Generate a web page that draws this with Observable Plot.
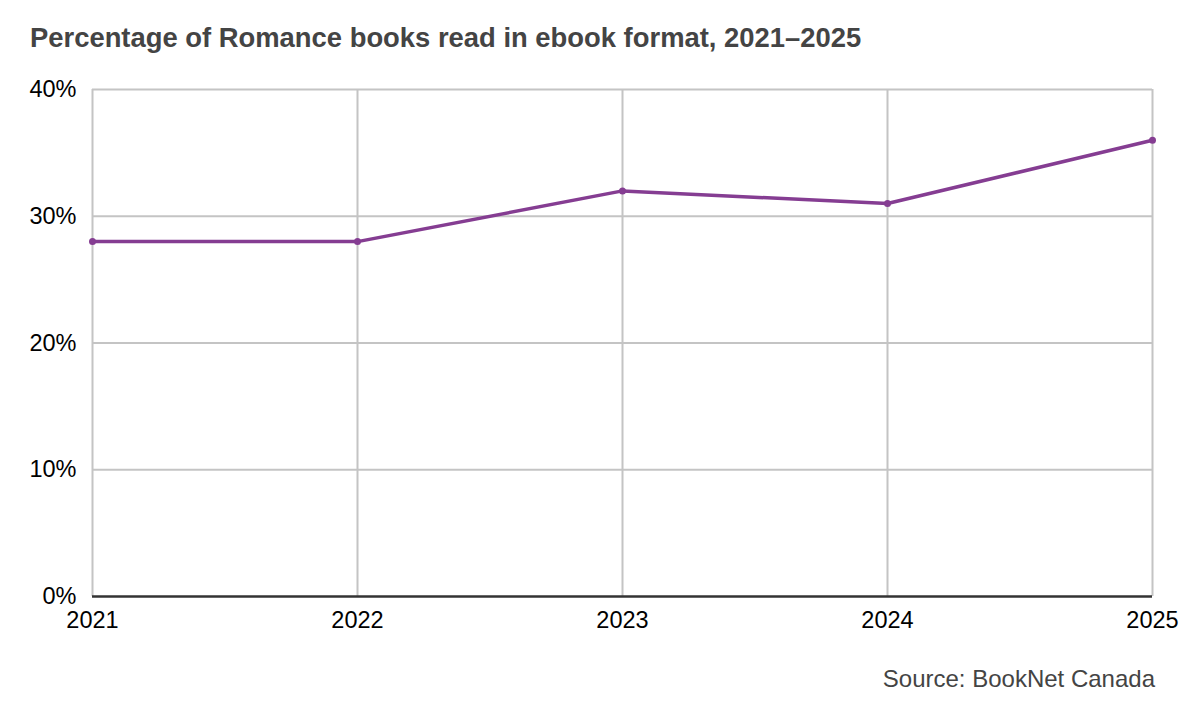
<!DOCTYPE html>
<html>
<head>
<meta charset="utf-8">
<script src="https://cdn.jsdelivr.net/npm/d3@7"></script>
<script src="https://cdn.jsdelivr.net/npm/@observablehq/plot@0.6"></script>
<style>
  html, body { margin: 0; padding: 0; background: #fff; }
  body { width: 1182px; height: 702px; overflow: hidden; font-family: "Liberation Sans", Arial, sans-serif; }
  #title { padding: 23px 0 0 30px; height: 37px; font-size: 27.4px; font-weight: bold; color: #444; line-height: 30px; white-space: nowrap; }
  #source { text-align: right; padding-right: 27px; font-size: 24px; color: #444; line-height: 26px; margin-top: 30px; }
  svg { display: block; }
</style>
</head>
<body>
<div id="title">Percentage of Romance books read in ebook format, 2021–2025</div>
<div id="chart"></div>
<div id="source">Source: BookNet Canada</div>
<script>
const years = [2021, 2022, 2023, 2024, 2025];
const ebookShare = [28, 28, 32, 31, 36];
const yTicks = [0, 10, 20, 30, 40];

const data = years.map((y, i) => ({year: y, value: ebookShare[i]}));

const chart = Plot.plot({
  width: 1182,
  height: 576,
  marginTop: 29,
  marginBottom: 40,
  marginLeft: 92,
  marginRight: 30,
  style: {fontFamily: "Liberation Sans, Arial, sans-serif", fontSize: "23.5px", color: "#000", background: "#fff"},
  x: {type: "linear", domain: [2021, 2025], ticks: years, tickFormat: d => String(d), tickSize: 0, tickPadding: 8, label: null},
  y: {domain: [0, 40], ticks: yTicks, tickFormat: d => d + "%", tickSize: 0, tickPadding: 16, label: null},
  marks: [
    Plot.gridX(years, {stroke: "#c4c4c4", strokeOpacity: 1, strokeWidth: 2}),
    Plot.gridY(yTicks.filter(d => d > 0), {stroke: "#c4c4c4", strokeOpacity: 1, strokeWidth: 2}),
    Plot.axisX({ticks: years, tickFormat: d => String(d), tickSize: 0, tickPadding: 15, fontSize: 23.5, fill: "#000"}),
    Plot.axisY({ticks: yTicks, tickFormat: d => d + "%", tickSize: 0, tickPadding: 16, fontSize: 23.5, fill: "#000"}),
    Plot.ruleY([0], {stroke: "#333", strokeWidth: 2.5}),
    Plot.line(data, {x: "year", y: "value", stroke: "#853d92", strokeWidth: 3.5}),
    Plot.dot(data, {x: "year", y: "value", fill: "#853d92", r: 3.5})
  ]
});
document.getElementById("chart").appendChild(chart);
</script>
</body>
</html>
